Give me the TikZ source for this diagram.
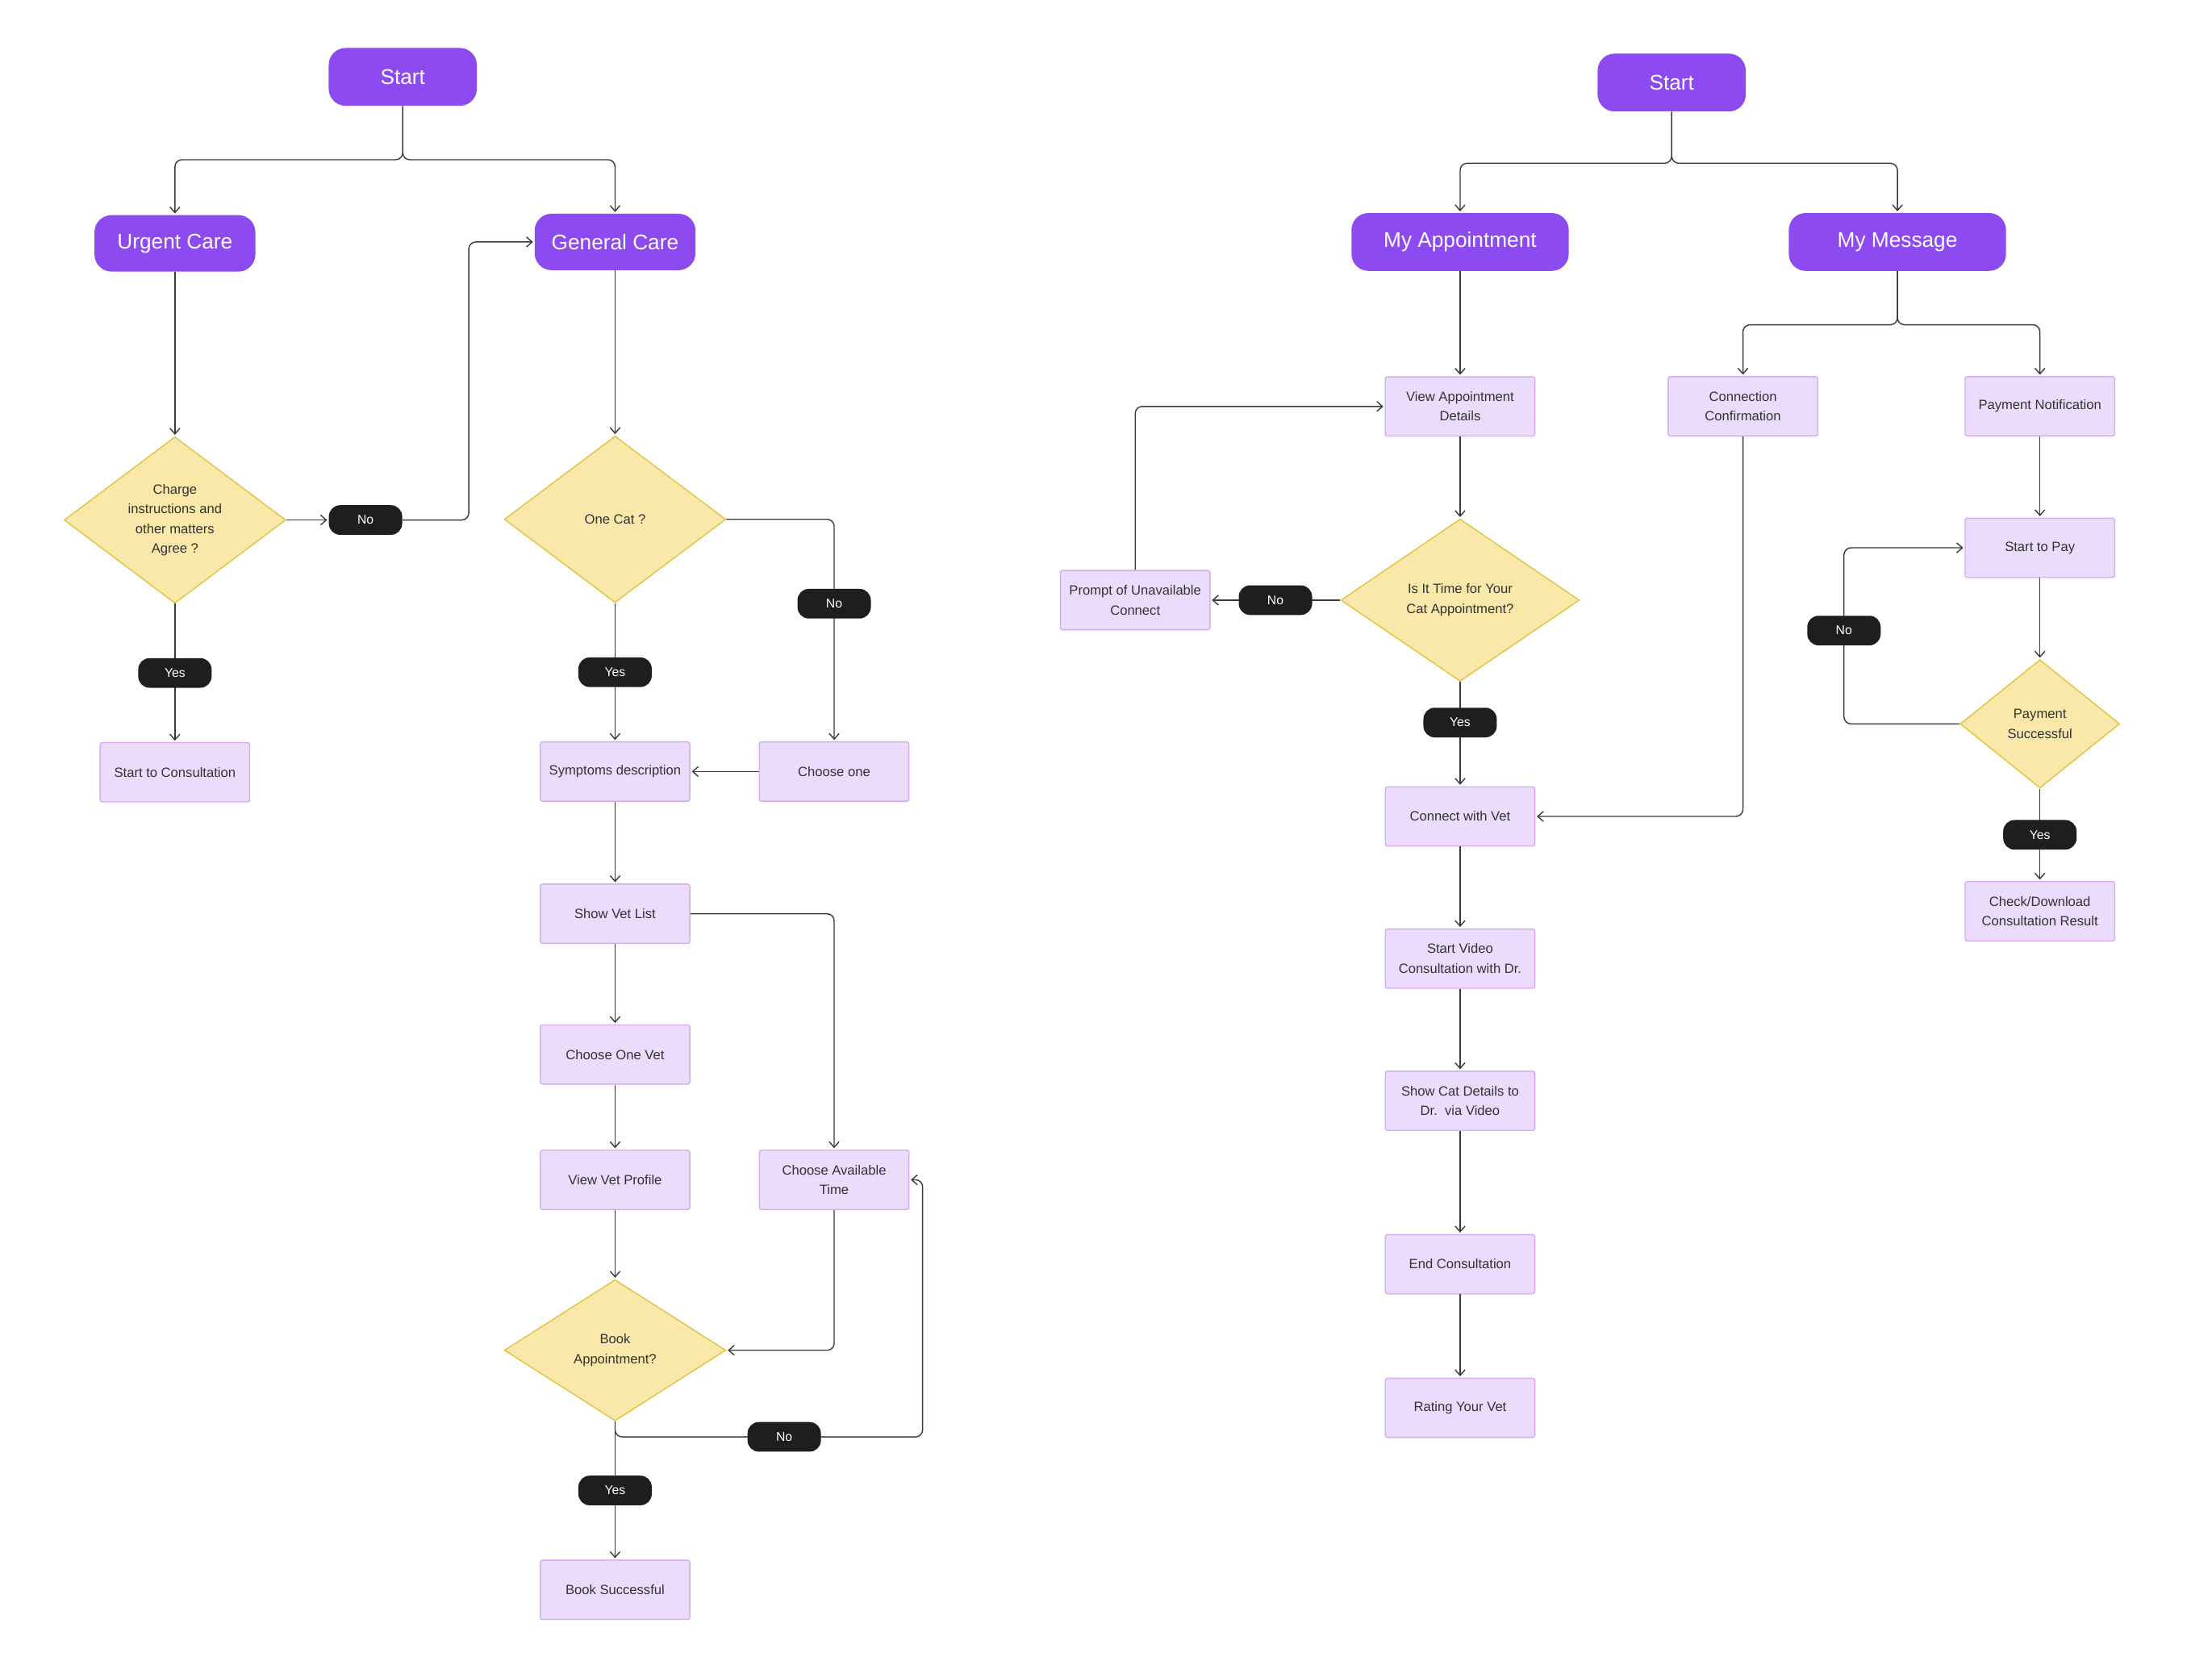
\documentclass[tikz,border=0pt]{standalone}
\usepackage{fontspec}
\setmainfont{Liberation Sans}
\usetikzlibrary{arrows.meta, positioning, shapes.geometric}
\definecolor{grape}{HTML}{8D4AF1}
\definecolor{lilac}{HTML}{EBDCFD}
\definecolor{lilacline}{HTML}{D9A9F7}
\definecolor{sand}{HTML}{FAE8AA}
\definecolor{sandline}{HTML}{E2C33E}
\definecolor{ink}{HTML}{1E1E1E}
\definecolor{wire}{HTML}{3A3A3A}
\definecolor{inkgray}{HTML}{333333}

\begin{document}
\begin{tikzpicture}[x=1pt, y=-1pt,
  font=\fontsize{9.5}{14}\selectfont, text=inkgray,
  head/.style={fill=grape, text=white, rounded corners=12pt, minimum width=114pt,
               minimum height=40pt, font=\fontsize{15}{18}\selectfont},
  box/.style={draw=lilacline, fill=lilac, rounded corners=1.5pt, minimum width=106pt,
              minimum height=42pt, align=center, inner sep=2pt, line width=0.8pt},
  ask/.style={diamond, draw=sandline, fill=sand, inner sep=0pt, align=center,
              shape aspect=1.35, line width=0.8pt},
  pill/.style={fill=ink, text=white, rounded corners=8pt, minimum width=52pt,
               minimum height=21pt, inner sep=1pt, font=\fontsize{9}{11}\selectfont},
  a/.style={-{Straight Barb[length=4pt, width=7pt]}, draw=wire, line width=0.8pt,
            rounded corners=5pt, shorten >=1pt}]
\path[fill=white, use as bounding box] (0,0) rectangle (1568,1189);

% urgent / general care
\node[head, minimum width=105pt, minimum height=41pt] (startL) at (285.5,54.5) {Start};
\node[head] (urgent) at (124,172.5) {Urgent Care};
\node[head] (general) at (436,171.5) {General Care};
\node[ask, below=116.5pt of urgent, minimum width=157pt, minimum height=118pt]
  (charge) {Charge\\instructions and\\other matters\\Agree ?};
\node[pill, right=30pt of charge] (no1) {No};
\node[box, below=98pt of charge] (cons) {Start to Consultation};
\node[ask, below=117pt of general, minimum width=157pt, minimum height=118pt]
  (onecat) {One Cat ?};
\node[box, below=98pt of onecat] (symp) {Symptoms description};
\node[box, right=48.5pt of symp] (choose) {Choose one};
\node[box, below=58pt of symp] (vetlist) {Show Vet List};
\node[box, below=57pt of vetlist] (onevet) {Choose One Vet};
\node[box, below=46pt of onevet] (profile) {View Vet Profile};
\node[box, right=48.5pt of profile] (avail) {Choose Available\\Time};
\node[ask, below=49pt of profile, minimum width=157pt, minimum height=100pt, shape aspect=1.56]
  (book) {Book\\Appointment?};
\node[box, below=98pt of book] (booked) {Book Successful};

\draw[a] (startL.south) -- ++(0,38) -| (urgent.north);
\draw[a] (startL.south) -- ++(0,38) -| (general.north);
\draw[a] (urgent) -- (charge);
\draw[a] (charge.east) -- (no1.west);
\draw[a] (no1.east) -- ++(47,0) |- (general.west);
\draw[a] (charge) -- node[pill] (yes1) {Yes} (cons);
\draw[a] (general) -- (onecat);
\draw[a] (onecat) -- node[pill] (yes2) {Yes} (symp);
\draw[a] (onecat.east) -| node[pill, pos=0.69] (no2) {No} (choose.north);
\draw[a] (choose) -- (symp);
\draw[a] (symp) -- (vetlist);
\draw[a] (vetlist) -- (onevet);
\draw[a] (vetlist.east) -| (avail.north);
\draw[a] (onevet) -- (profile);
\draw[a] (profile) -- (book);
\draw[a] (avail.south) |- (book.east);
\draw[a] (book) -- node[pill] (yes3) {Yes} (booked);
\draw[a] (book.south) |- node[pill, pos=0.775] (no3) {No} ++(218,11) |- (avail.east);

% appointment / message
\node[head, minimum width=105pt, minimum height=41pt] (startR) at (1185,58.5) {Start};
\node[head, minimum width=154pt, minimum height=41pt] (appt) at (1035,171.5) {My Appointment};
\node[head, minimum width=154pt, minimum height=41pt] (msg) at (1345,171.5) {My Message};
\node[box, below=74.5pt of appt] (details) {View Appointment\\Details};
\node[ask, below=58pt of details, minimum width=169pt, minimum height=115pt, shape aspect=1.47]
  (slot) {Is It Time for Your\\Cat Appointment?};
\node[box, left=92pt of slot] (prompt) {Prompt of Unavailable\\Connect};
\node[box, below=74pt of slot] (vet) {Connect with Vet};
\node[box, below=58pt of vet] (video) {Start Video\\Consultation with Dr.};
\node[box, below=58pt of video] (catinfo) {Show Cat Details to\\Dr.\ \ via Video};
\node[box, below=73pt of catinfo] (endcall) {End Consultation};
\node[box, below=59pt of endcall] (rating) {Rating Your Vet};
\node[box] (confirm) at (1235.5,288) {Connection\\Confirmation};
\node[box] (notice) at (1446,288) {Payment Notification};
\node[box, below=57.5pt of notice] (pay) {Start to Pay};
\node[ask, below=57.5pt of pay, minimum width=113pt, minimum height=91pt, shape aspect=1.24]
  (paid) {Payment\\Successful};
\node[box, below=65.5pt of paid] (result) {Check/Download\\Consultation Result};

\draw[a] (startR.south) -- ++(0,36.5) -| (appt.north);
\draw[a] (startR.south) -- ++(0,36.5) -| (msg.north);
\draw[a] (appt) -- (details);
\draw[a] (details) -- (slot);
\draw[a] (slot.west) -- node[pill] (no4) {No} (prompt.east);
\draw[a] (prompt.north) |- (details.west);
\draw[a] (slot) -- node[pill, pos=0.39] (yes4) {Yes} (vet);
\draw[a] (vet) -- (video);
\draw[a] (video) -- (catinfo);
\draw[a] (catinfo) -- (endcall);
\draw[a] (endcall) -- (rating);
\draw[a] (msg.south) -- ++(0,38) -| (confirm.north);
\draw[a] (msg.south) -- ++(0,38) -| (notice.north);
\draw[a] (confirm.south) |- (vet.east);
\draw[a] (notice) -- (pay);
\draw[a] (pay) -- (paid);
\draw[a] (paid.west) -- ++(-82,0) |- node[pill, pos=0.265] (no5) {No} (pay.west);
\draw[a] (paid) -- node[pill] (yes5) {Yes} (result);
\end{tikzpicture}
\end{document}
